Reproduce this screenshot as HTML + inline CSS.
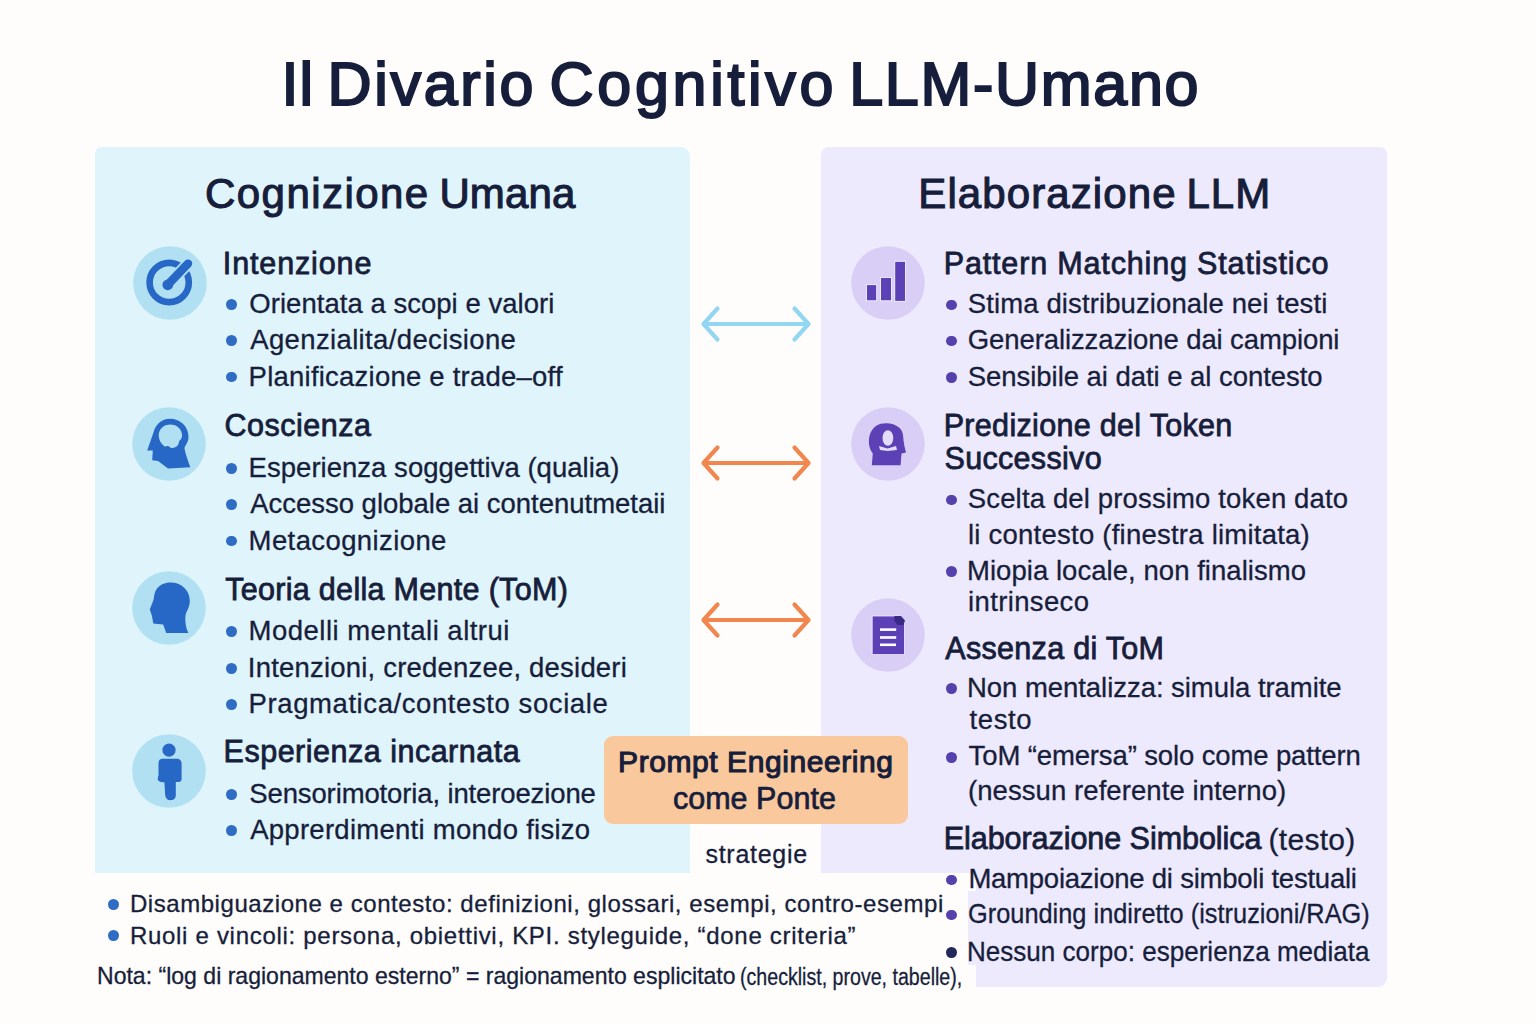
<!DOCTYPE html>
<html><head><meta charset="utf-8"><style>
html,body{margin:0;padding:0;}
body{width:1536px;height:1024px;position:relative;overflow:hidden;background:#fefdfb;font-family:"Liberation Sans",sans-serif;}
.t{position:absolute;white-space:nowrap;line-height:1;transform-origin:0 0;}
</style></head><body>
<div style="position:absolute;left:95px;top:147px;width:594.5px;height:726px;background:#e0f4fc;border-radius:7px 9px 0 0"></div>
<div style="position:absolute;left:821px;top:147px;width:566px;height:840px;background:#eeeafd;border-radius:8px 7px 9px 2px"></div>
<svg style="position:absolute;left:132.7px;top:245.9px" width="74" height="74" viewBox="0 0 74 74"><circle cx="37" cy="37" r="36.8" fill="#b1e0f3"/><circle cx="36.2" cy="36.5" r="19.6" fill="none" stroke="#2767c6" stroke-width="6.6"/><path d="M35 38.5 L55 17.6" stroke="#b1e0f3" stroke-width="12" stroke-linecap="round"/><path d="M35 38.5 L55 17.6" stroke="#2767c6" stroke-width="8.4" stroke-linecap="round"/><circle cx="34.8" cy="38.8" r="5.4" fill="#2767c6"/></svg>
<svg style="position:absolute;left:132.1px;top:406.8px" width="74" height="74" viewBox="0 0 74 74"><circle cx="37" cy="37" r="36.8" fill="#b1e0f3"/><path fill="#2767c6" fill-rule="evenodd" d="M38.4 11.7 C47 11.7 56.5 18 56.5 30 C56.5 35 53.5 38 52.4 41 C53.5 47 56 54 58.3 60.3 L36 61.5 L26.1 53.9 L20.2 53.3 L20.8 43.4 L15.2 43.4 L21.4 25.8 C23 19 28 11.7 38.4 11.7 Z M38.4 17.6 C31.5 17.6 26.7 22.5 26.7 28.5 C26.7 33 29 37 33.1 39.8 C34.5 39 35.5 39 36.6 39.2 C38 40.5 39.5 41 40.7 41 C43 40.8 45 39.5 46 38.1 C46.5 37 47 35.5 47.2 34 C49 32.5 50.1 30.5 50.1 28.5 C50.1 22.5 45 17.6 38.4 17.6 Z"/></svg>
<svg style="position:absolute;left:131.6px;top:570.6px" width="74" height="74" viewBox="0 0 74 74"><circle cx="37" cy="37" r="36.8" fill="#b1e0f3"/><path fill="#2767c6" d="M38.3 11.4 C49.5 11.4 57.8 19 57.8 30 C57.8 36.5 54.5 40 53.5 44.2 C52.8 50 53.8 57 56.4 62.1 L34.2 62.1 L31.2 53.6 C28 53 24 52.6 21.3 52.4 C20.8 50 20.4 47.5 20.1 45.6 C19.5 43 18.5 41 17.8 38.6 C19 35 21 31 21.8 27.5 C22.2 24 22.5 21 25 17.5 C28 13.5 33 11.4 38.3 11.4 Z"/></svg>
<svg style="position:absolute;left:132.3px;top:734.2px" width="74" height="74" viewBox="0 0 74 74"><circle cx="37" cy="37" r="36.8" fill="#b1e0f3"/><circle cx="37" cy="16.2" r="6.6" fill="#2767c6"/><path fill="#2767c6" d="M30 24.8 H45 C48 24.8 49.6 27 49.6 30 V45 C49.6 47 48.5 48 46.5 48 H43.8 V61 C43.8 64.5 41.5 66.2 38.5 66.2 C35.5 66.2 33.6 64.5 33.2 61 L32.4 48.2 C30 48.5 27.5 48 26.2 46.5 C25.5 45.5 25.8 43 26.5 41.5 V30 C26.5 27 27.5 24.8 30 24.8 Z"/></svg>
<svg style="position:absolute;left:851.4px;top:246.1px" width="74" height="74" viewBox="0 0 74 74"><circle cx="37" cy="37" r="36.8" fill="#d9cef6"/><g fill="#5b40b6" stroke="#fff" stroke-width="0.8"><rect x="15.5" y="38.7" width="10.2" height="16.1"/><rect x="29.6" y="31.4" width="10.8" height="23.4"/><rect x="43.8" y="15.3" width="10.7" height="40"/></g></svg>
<svg style="position:absolute;left:851.4px;top:407.0px" width="74" height="74" viewBox="0 0 74 74"><circle cx="37" cy="37" r="36.8" fill="#d9cef6"/><path fill="#5b40b6" d="M35.5 16.3 C45 16.3 52.1 22 52.1 29 C52.5 35 53.5 40 55 45.6 L50.5 46.6 L49.6 58.3 L20.8 58.3 L21.8 46.6 C19 43 17.9 38 17.9 34.9 C17.9 26 21.8 21.2 25 19 C28 17 31 16.3 35.5 16.3 Z"/><ellipse cx="36.9" cy="31" rx="5.4" ry="7.8" fill="#e4dcf8"/><path d="M28 39 L36.5 41.5 L45 39 L46 43 L36.5 44 L29 43 Z" fill="#e4dcf8"/></svg>
<svg style="position:absolute;left:851.0px;top:598.4px" width="74" height="74" viewBox="0 0 74 74"><circle cx="37" cy="37" r="36.8" fill="#d9cef6"/><path fill="#5b40b6" stroke="#f4f0ff" stroke-width="0.8" d="M21.2 18 H49.5 L53.5 22.5 V56.6 H21.2 Z"/><path fill="#3a2a85" d="M43.4 18 H50 L54 22.4 L52.5 27 H46.6 L43.2 22.8 Z"/><g stroke="#fff" stroke-width="2.6"><path d="M29 31.6 H45.2"/><path d="M29 39.5 H45.2"/><path d="M29 46.8 H45"/></g></svg>
<svg style="position:absolute;left:690px;top:293.8px" width="132" height="60" viewBox="0 0 132 60"><g fill="none" stroke="#92d6f1" stroke-width="4.2" stroke-linecap="round" stroke-linejoin="round"><path d="M14 30 H118"/><path d="M27.5 14.5 L13.5 30 L27.5 45.5"/><path d="M104.5 14.5 L118.5 30 L104.5 45.5"/></g></svg>
<svg style="position:absolute;left:690px;top:432.6px" width="132" height="60" viewBox="0 0 132 60"><g fill="none" stroke="#f1874f" stroke-width="4.2" stroke-linecap="round" stroke-linejoin="round"><path d="M14 30 H118"/><path d="M27.5 14.5 L13.5 30 L27.5 45.5"/><path d="M104.5 14.5 L118.5 30 L104.5 45.5"/></g></svg>
<svg style="position:absolute;left:690px;top:590px" width="132" height="60" viewBox="0 0 132 60"><g fill="none" stroke="#f1874f" stroke-width="4.2" stroke-linecap="round" stroke-linejoin="round"><path d="M14 30 H118"/><path d="M27.5 14.5 L13.5 30 L27.5 45.5"/><path d="M104.5 14.5 L118.5 30 L104.5 45.5"/></g></svg>

<div class="t" style="left:281.6px;top:54.1px;font-size:61px;color:#171e3b;-webkit-text-stroke:2.1px #171e3b;letter-spacing:0.940px;">Il</div>
<div class="t" style="left:327.6px;top:54.1px;font-size:61px;color:#171e3b;-webkit-text-stroke:2.1px #171e3b;letter-spacing:2.672px;">Divario</div>
<div class="t" style="left:549.6px;top:54.1px;font-size:61px;color:#171e3b;-webkit-text-stroke:2.1px #171e3b;letter-spacing:3.689px;">Cognitivo</div>
<div class="t" style="left:849.2px;top:54.1px;font-size:61px;color:#171e3b;-webkit-text-stroke:2.1px #171e3b;letter-spacing:1.707px;">LLM-Umano</div>
<div class="t" style="left:205.0px;top:173.3px;font-size:42px;color:#171e3b;-webkit-text-stroke:1.1px #171e3b;letter-spacing:1.448px;">Cognizione</div>
<div class="t" style="left:439.4px;top:173.3px;font-size:42px;color:#171e3b;-webkit-text-stroke:1.1px #171e3b;letter-spacing:0.150px;">Umana</div>
<div class="t" style="left:918.3px;top:173.3px;font-size:42px;color:#171e3b;-webkit-text-stroke:1.1px #171e3b;letter-spacing:1.097px;">Elaborazione</div>
<div class="t" style="left:1186.4px;top:173.3px;font-size:42px;color:#171e3b;-webkit-text-stroke:1.1px #171e3b;letter-spacing:1.025px;">LLM</div>
<div class="t" style="left:222.8px;top:247.6px;font-size:30.5px;color:#171e3b;-webkit-text-stroke:0.8px #171e3b;letter-spacing:0.870px;">Intenzione</div>
<div class="t" style="left:249.3px;top:289.6px;font-size:27.5px;color:#171e3b;-webkit-text-stroke:0.3px #171e3b;letter-spacing:0.034px;">Orientata a scopi e valori</div>
<div class="t" style="left:250.2px;top:325.6px;font-size:27.5px;color:#171e3b;-webkit-text-stroke:0.3px #171e3b;letter-spacing:0.368px;">Agenzialita/decisione</div>
<div class="t" style="left:248.6px;top:362.6px;font-size:27.5px;color:#171e3b;-webkit-text-stroke:0.3px #171e3b;letter-spacing:0.227px;">Planificazione e trade–off</div>
<div class="t" style="left:224.4px;top:410.1px;font-size:30.5px;color:#171e3b;-webkit-text-stroke:0.8px #171e3b;letter-spacing:0.522px;">Coscienza</div>
<div class="t" style="left:248.6px;top:453.6px;font-size:27.5px;color:#171e3b;-webkit-text-stroke:0.3px #171e3b;letter-spacing:0.027px;">Esperienza soggettiva (qualia)</div>
<div class="t" style="left:250.2px;top:489.6px;font-size:27.5px;color:#171e3b;-webkit-text-stroke:0.3px #171e3b;letter-spacing:-0.018px;">Accesso globale ai contenutmetaii</div>
<div class="t" style="left:248.6px;top:526.6px;font-size:27.5px;color:#171e3b;-webkit-text-stroke:0.3px #171e3b;letter-spacing:0.397px;">Metacognizione</div>
<div class="t" style="left:225.2px;top:573.6px;font-size:30.5px;color:#171e3b;-webkit-text-stroke:0.8px #171e3b;letter-spacing:0.303px;">Teoria della Mente (ToM)</div>
<div class="t" style="left:248.6px;top:616.6px;font-size:27.5px;color:#171e3b;-webkit-text-stroke:0.3px #171e3b;letter-spacing:0.483px;">Modelli mentali altrui</div>
<div class="t" style="left:247.8px;top:653.6px;font-size:27.5px;color:#171e3b;-webkit-text-stroke:0.3px #171e3b;letter-spacing:0.201px;">Intenzioni, credenzee, desideri</div>
<div class="t" style="left:248.6px;top:689.6px;font-size:27.5px;color:#171e3b;-webkit-text-stroke:0.3px #171e3b;letter-spacing:0.585px;">Pragmatica/contesto sociale</div>
<div class="t" style="left:223.6px;top:736.1px;font-size:30.5px;color:#171e3b;-webkit-text-stroke:0.8px #171e3b;letter-spacing:0.499px;">Esperienza incarnata</div>
<div class="t" style="left:249.3px;top:779.6px;font-size:27.5px;color:#171e3b;-webkit-text-stroke:0.3px #171e3b;letter-spacing:-0.130px;">Sensorimotoria, interoezione</div>
<div class="t" style="left:250.2px;top:815.6px;font-size:27.5px;color:#171e3b;-webkit-text-stroke:0.3px #171e3b;letter-spacing:0.270px;">Apprerdimenti mondo fisizo</div>
<div class="t" style="left:943.7px;top:247.6px;font-size:30.5px;color:#171e3b;-webkit-text-stroke:0.8px #171e3b;letter-spacing:0.845px;">Pattern Matching Statistico</div>
<div class="t" style="left:967.8px;top:289.6px;font-size:27.5px;color:#171e3b;-webkit-text-stroke:0.3px #171e3b;letter-spacing:0.113px;">Stima distribuzionale nei testi</div>
<div class="t" style="left:967.8px;top:325.6px;font-size:27.5px;color:#171e3b;-webkit-text-stroke:0.3px #171e3b;letter-spacing:-0.102px;">Generalizzazione dai campioni</div>
<div class="t" style="left:967.8px;top:362.6px;font-size:27.5px;color:#171e3b;-webkit-text-stroke:0.3px #171e3b;letter-spacing:-0.047px;">Sensibile ai dati e al contesto</div>
<div class="t" style="left:943.7px;top:410.1px;font-size:30.5px;color:#171e3b;-webkit-text-stroke:0.8px #171e3b;letter-spacing:0.317px;">Predizione del Token</div>
<div class="t" style="left:944.5px;top:443.1px;font-size:30.5px;color:#171e3b;-webkit-text-stroke:0.8px #171e3b;letter-spacing:0.317px;">Successivo</div>
<div class="t" style="left:967.8px;top:484.6px;font-size:27.5px;color:#171e3b;-webkit-text-stroke:0.3px #171e3b;letter-spacing:0.146px;">Scelta del prossimo token dato</div>
<div class="t" style="left:968.0px;top:520.6px;font-size:27.5px;color:#171e3b;-webkit-text-stroke:0.3px #171e3b;letter-spacing:0.236px;">li contesto (finestra limitata)</div>
<div class="t" style="left:967.0px;top:556.6px;font-size:27.5px;color:#171e3b;-webkit-text-stroke:0.3px #171e3b;letter-spacing:0.045px;">Miopia locale, non finalismo</div>
<div class="t" style="left:968.0px;top:588.1px;font-size:27.5px;color:#171e3b;-webkit-text-stroke:0.3px #171e3b;letter-spacing:0.366px;">intrinseco</div>
<div class="t" style="left:945.3px;top:632.6px;font-size:30.5px;color:#171e3b;-webkit-text-stroke:0.8px #171e3b;letter-spacing:0.305px;">Assenza di ToM</div>
<div class="t" style="left:967.0px;top:673.6px;font-size:27.5px;color:#171e3b;-webkit-text-stroke:0.3px #171e3b;letter-spacing:-0.045px;">Non mentalizza: simula tramite</div>
<div class="t" style="left:969.6px;top:706.1px;font-size:27.5px;color:#171e3b;-webkit-text-stroke:0.3px #171e3b;letter-spacing:0.595px;">testo</div>
<div class="t" style="left:968.6px;top:742.1px;font-size:27.5px;color:#171e3b;-webkit-text-stroke:0.3px #171e3b;letter-spacing:-0.126px;">ToM “emersa” solo come pattern</div>
<div class="t" style="left:968.0px;top:777.4px;font-size:27.5px;color:#171e3b;-webkit-text-stroke:0.3px #171e3b;letter-spacing:0.071px;">(nessun referente interno)</div>
<div class="t" style="left:943.7px;top:822.6px;font-size:30.5px;color:#171e3b;-webkit-text-stroke:0.8px #171e3b;letter-spacing:-0.045px;">Elaborazione Simbolica</div>
<div class="t" style="left:1268.6px;top:824.5px;font-size:30px;color:#171e3b;-webkit-text-stroke:0.3px #171e3b;letter-spacing:0.283px;">(testo)</div>
<div style="position:absolute;left:0;top:873px;width:976px;height:115px;background:#fefdfb"></div>
<div style="position:absolute;left:968px;top:891px;width:8px;height:74px;background:#eeeafd"></div>
<div class="t" style="left:968.4px;top:864.6px;font-size:27.5px;color:#171e3b;-webkit-text-stroke:0.3px #171e3b;letter-spacing:-0.237px;">Mampoiazione di simboli testuali</div>
<div class="t" style="left:967.8px;top:899.6px;font-size:27.5px;color:#171e3b;-webkit-text-stroke:0.3px #171e3b;transform:scaleX(0.9223);">Grounding indiretto (istruzioni/RAG)</div>
<div class="t" style="left:967.0px;top:938.1px;font-size:27.5px;color:#171e3b;-webkit-text-stroke:0.3px #171e3b;transform:scaleX(0.9473);">Nessun corpo: esperienza mediata</div>
<div class="t" style="left:129.9px;top:891.8px;font-size:24px;color:#171e3b;-webkit-text-stroke:0.3px #171e3b;letter-spacing:0.558px;">Disambiguazione e contesto: definizioni, glossari, esempi, contro-esempi</div>
<div class="t" style="left:129.9px;top:923.6px;font-size:24px;color:#171e3b;-webkit-text-stroke:0.3px #171e3b;letter-spacing:0.705px;">Ruoli e vincoli: persona, obiettivi, KPI. styleguide, “done criteria”</div>
<div class="t" style="left:96.7px;top:964.1px;font-size:24px;color:#171e3b;-webkit-text-stroke:0.3px #171e3b;transform:scaleX(0.9602);">Nota: “log di ragionamento esterno” = ragionamento esplicitato</div>
<div class="t" style="left:740.3px;top:965.6px;font-size:23.5px;color:#171e3b;-webkit-text-stroke:0.3px #171e3b;transform:scaleX(0.8340);">(checklist, prove, tabelle),</div>
<div style="position:absolute;left:226.0px;top:299.1px;width:10.8px;height:10.8px;border-radius:50%;background:#2f6cc4"></div>
<div style="position:absolute;left:226.0px;top:335.1px;width:10.8px;height:10.8px;border-radius:50%;background:#2f6cc4"></div>
<div style="position:absolute;left:226.0px;top:371.6px;width:10.8px;height:10.8px;border-radius:50%;background:#2f6cc4"></div>
<div style="position:absolute;left:226.0px;top:462.9px;width:10.8px;height:10.8px;border-radius:50%;background:#2f6cc4"></div>
<div style="position:absolute;left:226.0px;top:499.1px;width:10.8px;height:10.8px;border-radius:50%;background:#2f6cc4"></div>
<div style="position:absolute;left:226.0px;top:535.6px;width:10.8px;height:10.8px;border-radius:50%;background:#2f6cc4"></div>
<div style="position:absolute;left:226.0px;top:626.1px;width:10.8px;height:10.8px;border-radius:50%;background:#2f6cc4"></div>
<div style="position:absolute;left:226.0px;top:662.9px;width:10.8px;height:10.8px;border-radius:50%;background:#2f6cc4"></div>
<div style="position:absolute;left:226.0px;top:698.9px;width:10.8px;height:10.8px;border-radius:50%;background:#2f6cc4"></div>
<div style="position:absolute;left:226.0px;top:788.9px;width:10.8px;height:10.8px;border-radius:50%;background:#2f6cc4"></div>
<div style="position:absolute;left:226.0px;top:825.1px;width:10.8px;height:10.8px;border-radius:50%;background:#2f6cc4"></div>
<div style="position:absolute;left:945.9px;top:299.7px;width:10.8px;height:10.8px;border-radius:50%;background:#5540ac"></div>
<div style="position:absolute;left:945.9px;top:335.7px;width:10.8px;height:10.8px;border-radius:50%;background:#5540ac"></div>
<div style="position:absolute;left:945.9px;top:372.2px;width:10.8px;height:10.8px;border-radius:50%;background:#5540ac"></div>
<div style="position:absolute;left:945.9px;top:494.6px;width:10.8px;height:10.8px;border-radius:50%;background:#5540ac"></div>
<div style="position:absolute;left:945.9px;top:566.4px;width:10.8px;height:10.8px;border-radius:50%;background:#5540ac"></div>
<div style="position:absolute;left:945.9px;top:683.4px;width:10.8px;height:10.8px;border-radius:50%;background:#5540ac"></div>
<div style="position:absolute;left:945.9px;top:752.0px;width:10.8px;height:10.8px;border-radius:50%;background:#5540ac"></div>
<div style="position:absolute;left:945.9px;top:874.7px;width:10.8px;height:10.8px;border-radius:50%;background:#5540ac"></div>
<div style="position:absolute;left:945.9px;top:909.7px;width:10.8px;height:10.8px;border-radius:50%;background:#5540ac"></div>
<div style="position:absolute;left:945.9px;top:947.0px;width:10.8px;height:10.8px;border-radius:50%;background:#22285a"></div>
<div style="position:absolute;left:108.1px;top:899.1px;width:10.8px;height:10.8px;border-radius:50%;background:#2f6cc4"></div>
<div style="position:absolute;left:108.1px;top:930.2px;width:10.8px;height:10.8px;border-radius:50%;background:#2f6cc4"></div>
<div style="position:absolute;left:604px;top:736px;width:303.5px;height:88px;border-radius:9px;background:#f9c89c"></div>
<div class="t" style="left:618.1px;top:747.0px;font-size:30px;color:#171e3b;-webkit-text-stroke:1.1px #171e3b;letter-spacing:0.571px;">Prompt Engineering</div>
<div class="t" style="left:672.9px;top:782.6px;font-size:30.5px;color:#171e3b;-webkit-text-stroke:0.7px #171e3b;letter-spacing:0.030px;">come Ponte</div>
<div class="t" style="left:705.5px;top:841.8px;font-size:25px;color:#171e3b;-webkit-text-stroke:0.3px #171e3b;letter-spacing:0.710px;">strategie</div>

</body></html>
